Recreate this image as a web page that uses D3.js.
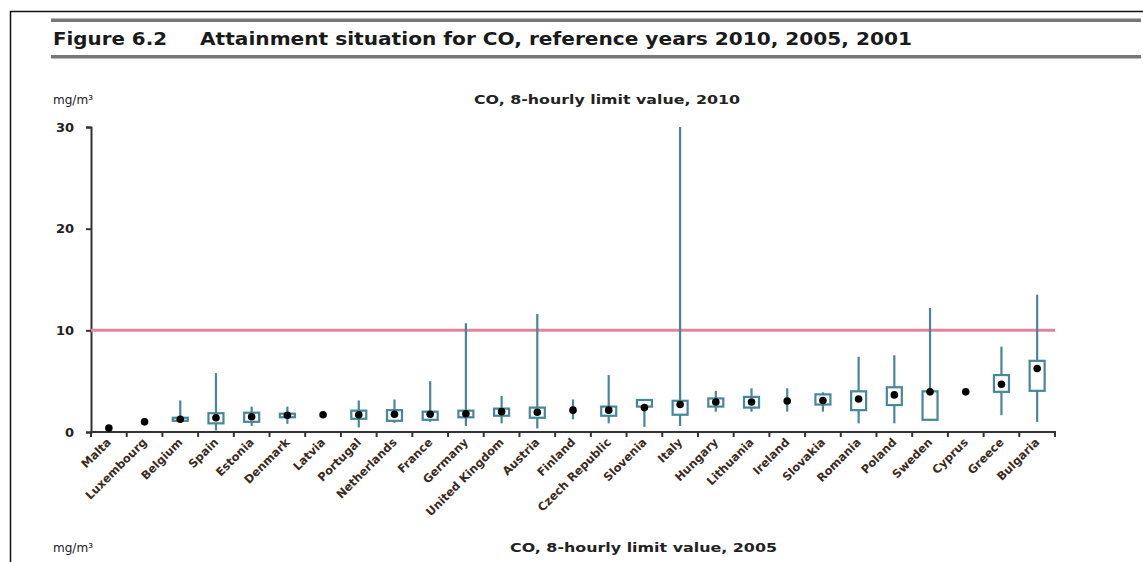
<!DOCTYPE html>
<html>
<head>
<meta charset="utf-8">
<script src="https://cdn.jsdelivr.net/npm/d3@7"></script>
<style>
  html, body { margin: 0; padding: 0; background: #fff; }
  svg { display: block; font-family: "DejaVu Sans", Verdana, sans-serif; }
</style>
</head>
<body>
<svg id="chart" width="1143" height="562"></svg>
<script>
// CO 8-hourly values per country (mg/m3), 2010
const countries = ["Malta", "Luxembourg", "Belgium", "Spain", "Estonia", "Denmark", "Latvia",
  "Portugal", "Netherlands", "France", "Germany", "United Kingdom", "Austria", "Finland",
  "Czech Republic", "Slovenia", "Italy", "Hungary", "Lithuania", "Ireland", "Slovakia",
  "Romania", "Poland", "Sweden", "Cyprus", "Greece", "Bulgaria"];
const whiskerLow  = [null, null, 1.0, 0.15, 0.6, 0.8, null, 0.45, 0.9, 1.0, 0.6, 0.85, 0.35, 1.25,
  0.85, 0.5, 0.6, 2.0, 2.0, 2.0, 2.0, 0.85, 0.85, 1.1, null, 1.65, 1.0];
const boxLow      = [null, null, 1.1, 0.85, 1.0, 1.45, null, 1.3, 1.1, 1.2, 1.45, 1.6, 1.4, null,
  1.6, 2.5, 1.7, 2.5, 2.4, null, 2.7, 2.15, 2.65, 1.2, null, 3.95, 4.05];
const middle      = [0.4, 1.0, 1.25, 1.4, 1.5, 1.65, 1.7, 1.7, 1.75, 1.75, 1.8, 2.0, 1.95, 2.15,
  2.15, 2.4, 2.7, 2.95, 2.95, 3.05, 3.1, 3.25, 3.65, 3.95, 3.95, 4.7, 6.25];
const boxHigh     = [null, null, 1.4, 1.85, 1.9, 1.8, null, 2.1, 2.15, 2.0, 2.1, 2.3, 2.4, null,
  2.5, 3.15, 3.07, 3.3, 3.45, null, 3.7, 4.0, 4.4, 4.0, null, 5.6, 7.0];
const whiskerHigh = [null, null, 3.1, 5.8, 2.5, 2.5, null, 3.1, 3.2, 5.0, 10.7, 3.55, 11.6, 3.2,
  5.6, 3.15, 30, 4.05, 4.3, 4.3, 3.9, 7.4, 7.55, 12.2, null, 8.4, 13.5];
const yTicks = [0, 10, 20, 30];
const limitValue = 10;

const svg = d3.select("#chart");
const teal = "#47879a";
const ink = "#222";

// page frame
svg.append("path").attr("d", "M10.5,562 V11.5 H1143")
  .attr("fill", "none").attr("stroke", "#111").attr("stroke-width", 1.5);

// header rules and figure title
svg.append("rect").attr("x", 51).attr("y", 18.5).attr("width", 1090).attr("height", 3.5).attr("fill", "#777");
svg.append("rect").attr("x", 51).attr("y", 55).attr("width", 1090).attr("height", 3.5).attr("fill", "#777");
svg.append("text").attr("x", 53).attr("y", 45).attr("font-size", 18).attr("font-weight", "bold")
  .attr("fill", "#1a1a1a").attr("textLength", 114).attr("lengthAdjust", "spacingAndGlyphs")
  .text("Figure 6.2");
svg.append("text").attr("x", 200).attr("y", 45).attr("font-size", 18).attr("font-weight", "bold")
  .attr("fill", "#1a1a1a").attr("textLength", 712).attr("lengthAdjust", "spacingAndGlyphs")
  .text("Attainment situation for CO, reference years 2010, 2005, 2001");

// panel scales
const x = d3.scaleBand().domain(countries).range([91, 1055]).padding(0);
const y = d3.scaleLinear().domain([0, 30]).range([432, 127]);

svg.append("text").attr("x", 53).attr("y", 104).attr("font-size", 12).attr("fill", ink)
  .attr("textLength", 40).attr("lengthAdjust", "spacingAndGlyphs").text("mg/m\u00B3");
svg.append("text").attr("x", 474).attr("y", 104).attr("font-size", 13).attr("font-weight", "bold")
  .attr("fill", ink).attr("textLength", 266).attr("lengthAdjust", "spacingAndGlyphs")
  .text("CO, 8-hourly limit value, 2010");

// y axis
const yAxis = svg.append("g").attr("transform", "translate(91,0)")
  .call(d3.axisLeft(y).tickValues(yTicks).tickSize(5).tickPadding(12));
yAxis.select(".domain").attr("stroke", "#333").attr("stroke-width", 2);
yAxis.selectAll(".tick line").attr("stroke", "#333").attr("stroke-width", 2);
yAxis.selectAll(".tick text").attr("font-size", 13).attr("font-weight", "bold").attr("fill", ink)
  .attr("font-family", "DejaVu Sans, sans-serif");

// limit value line
svg.append("line").attr("x1", 91).attr("x2", 1055)
  .attr("y1", y(limitValue)).attr("y2", y(limitValue))
  .attr("stroke", "#e4849c").attr("stroke-width", 3);

// x axis: labels at band centres, ticks at band edges
const xAxis = svg.append("g").attr("transform", `translate(0,${y(0)})`)
  .call(d3.axisBottom(x).tickSize(0).tickPadding(0));
xAxis.select(".domain").remove();
xAxis.selectAll(".tick text")
  .attr("font-size", 11.5).attr("font-weight", "bold").attr("fill", "#3a2a20")
  .attr("font-family", "DejaVu Sans, sans-serif")
  .attr("text-anchor", "end").attr("dy", null)
  .attr("transform", "translate(3,11) rotate(-45)");
svg.append("line").attr("x1", 90).attr("x2", 1056).attr("y1", y(0)).attr("y2", y(0))
  .attr("stroke", "#333").attr("stroke-width", 2);
const edges = countries.map(c => x(c)).concat([x.range()[1]]);
svg.append("g").selectAll("line").data(edges).join("line")
  .attr("x1", d => d).attr("x2", d => d).attr("y1", y(0)).attr("y2", y(0) + 5)
  .attr("stroke", "#333").attr("stroke-width", 2);

// box plots
const rows = countries.map((c, i) => ({
  c, wl: whiskerLow[i], bl: boxLow[i], m: middle[i], bh: boxHigh[i], wh: whiskerHigh[i]
}));
const g = svg.append("g");
const cx = d => x(d.c) + x.bandwidth() / 2;
const boxW = 15;

g.selectAll("line.whisker").data(rows.filter(d => d.wl != null && d.wh != null)).join("line")
  .attr("class", "whisker")
  .attr("x1", cx).attr("x2", cx)
  .attr("y1", d => y(d.wl)).attr("y2", d => y(d.wh))
  .attr("stroke", teal).attr("stroke-width", 2.2);

g.selectAll("rect.box").data(rows.filter(d => d.bl != null && d.bh != null)).join("rect")
  .attr("class", "box")
  .attr("x", d => cx(d) - boxW / 2).attr("width", boxW)
  .attr("y", d => y(d.bh)).attr("height", d => Math.max(2, y(d.bl) - y(d.bh)))
  .attr("fill", "#fff").attr("stroke", teal).attr("stroke-width", 2.2);

g.selectAll("circle.mid").data(rows).join("circle")
  .attr("class", "mid")
  .attr("cx", cx).attr("cy", d => y(d.m)).attr("r", 3.8)
  .attr("fill", "#000");

// next panel heading
svg.append("text").attr("x", 53).attr("y", 552).attr("font-size", 12).attr("fill", ink)
  .attr("textLength", 40).attr("lengthAdjust", "spacingAndGlyphs").text("mg/m\u00B3");
svg.append("text").attr("x", 510).attr("y", 552).attr("font-size", 13).attr("font-weight", "bold")
  .attr("fill", ink).attr("textLength", 267).attr("lengthAdjust", "spacingAndGlyphs")
  .text("CO, 8-hourly  limit value,  2005");
</script>
</body>
</html>
